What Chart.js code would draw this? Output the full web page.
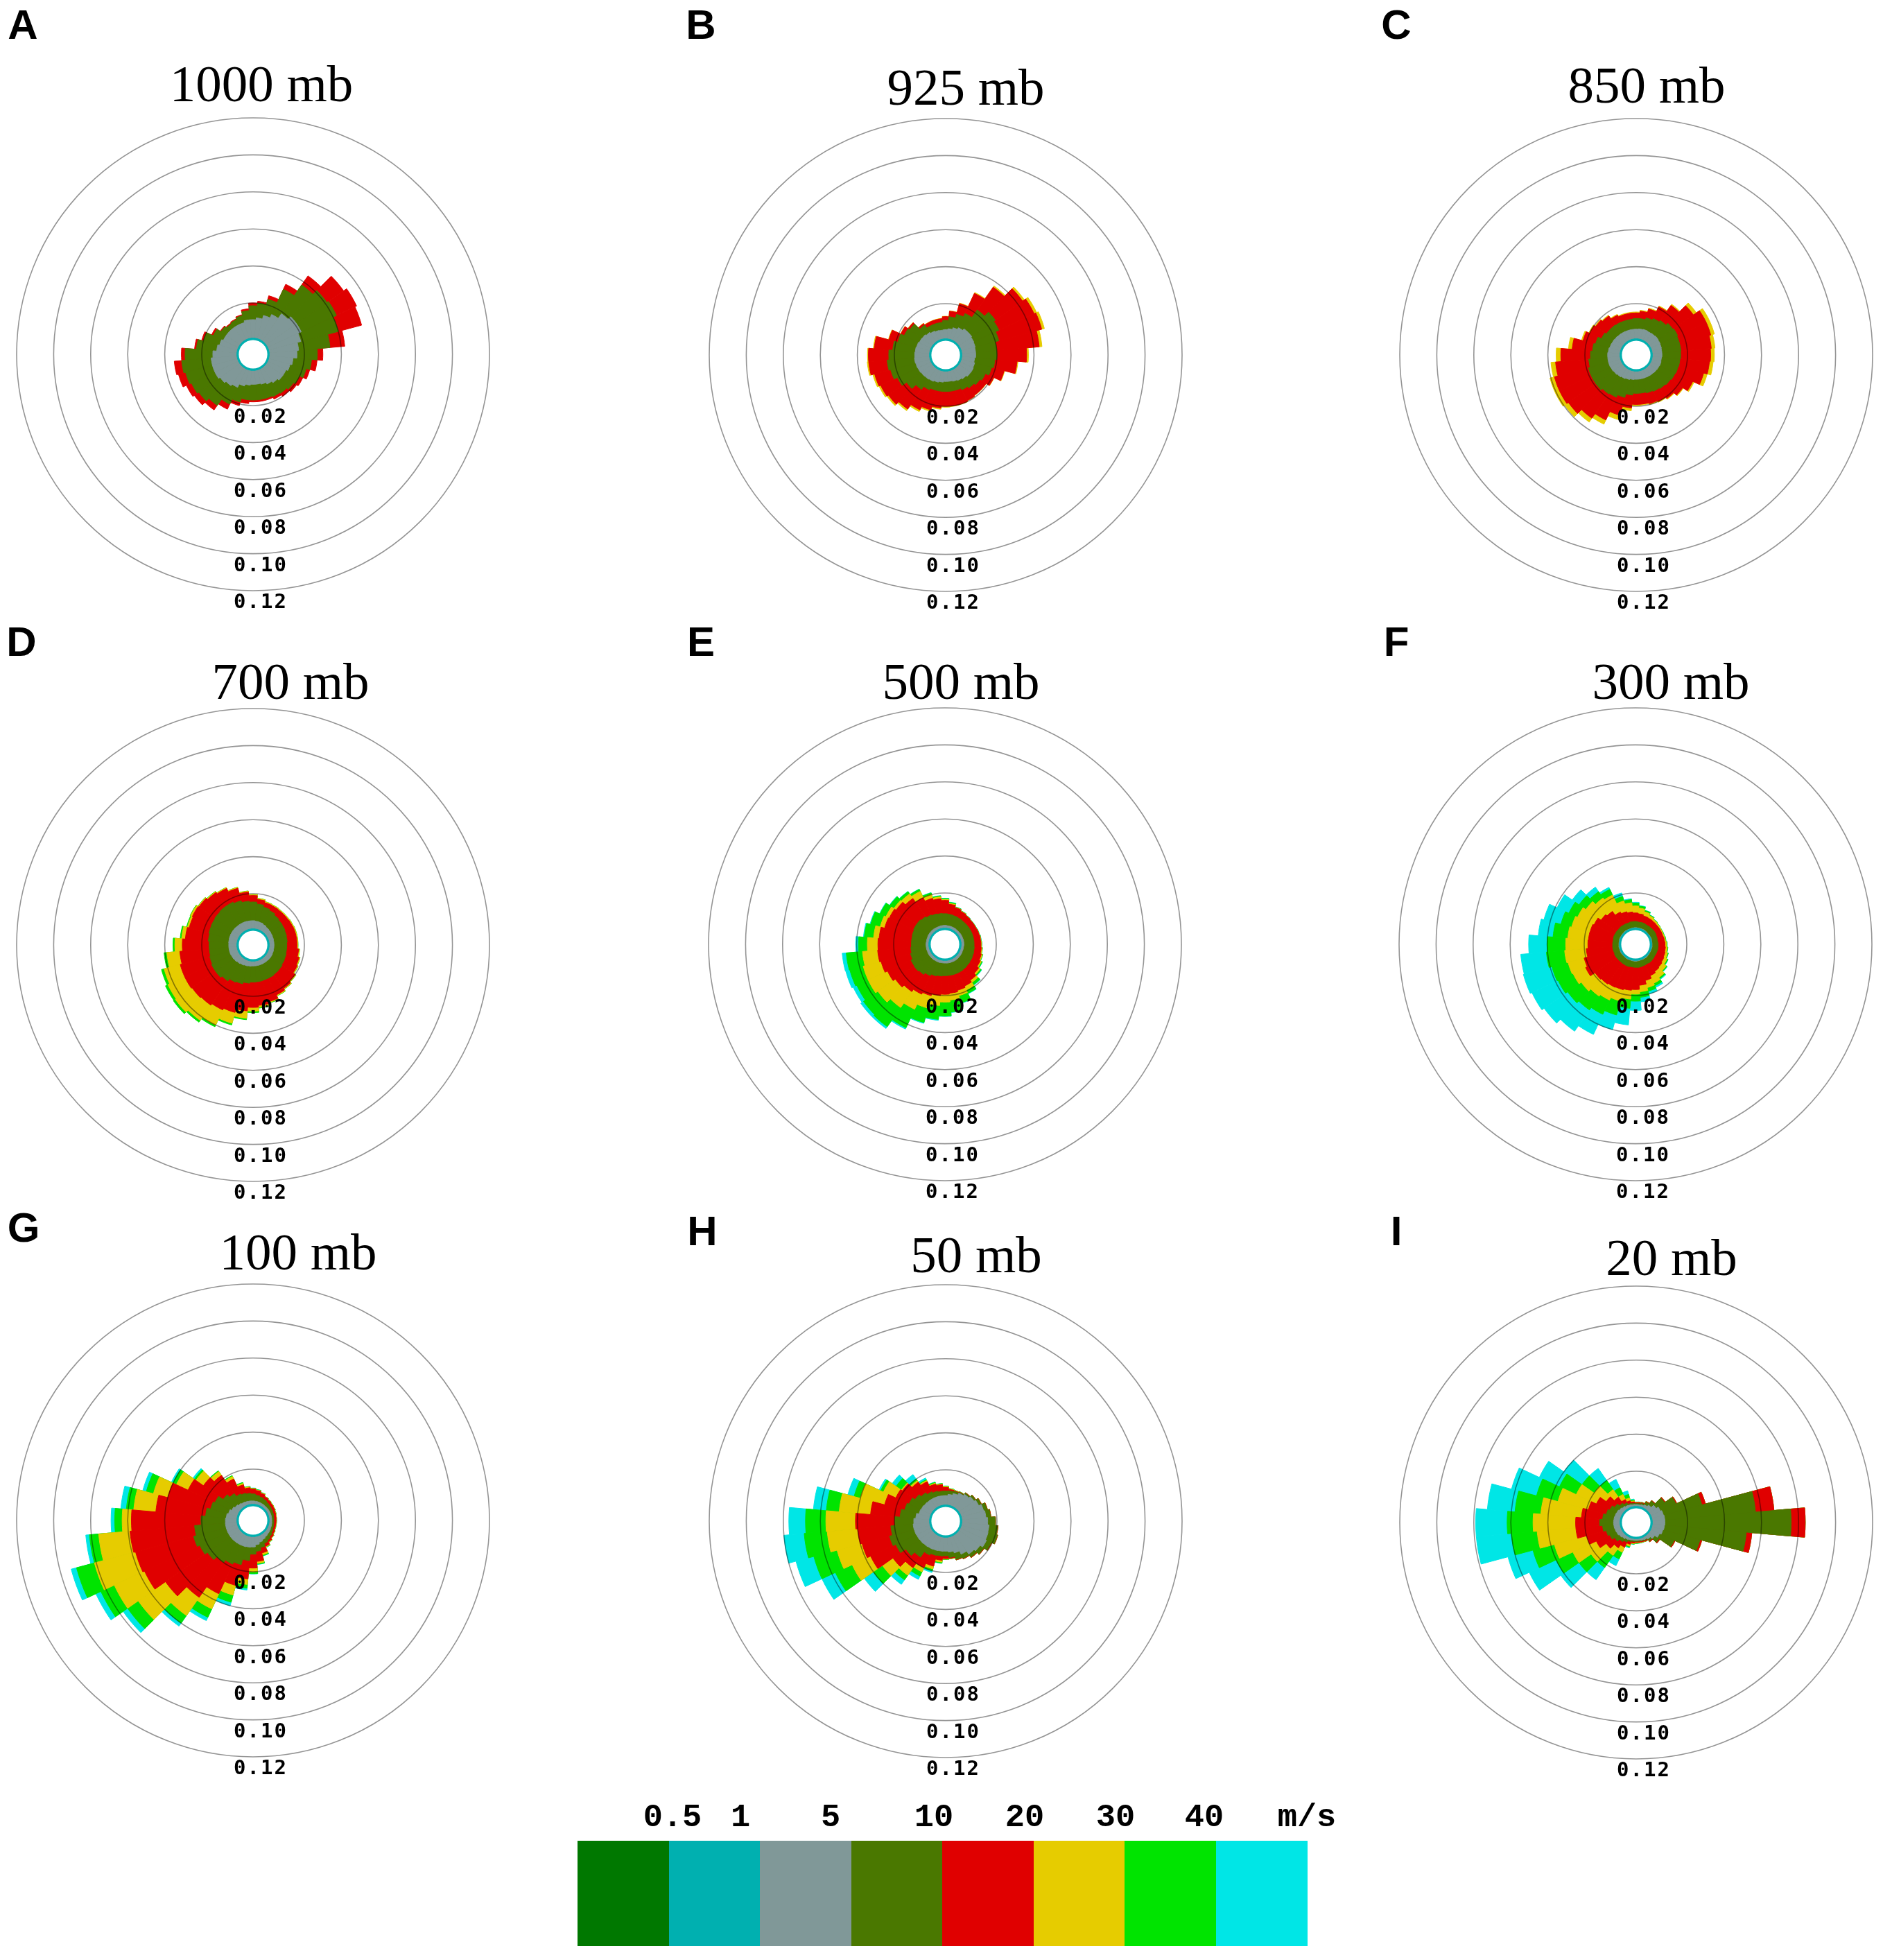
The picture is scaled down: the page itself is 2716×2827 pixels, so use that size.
<!DOCTYPE html>
<html>
<head>
<meta charset="utf-8">
<script src="https://cdn.jsdelivr.net/npm/chart.js@4.4.1/dist/chart.umd.min.js"></script>
<style>
  html, body { margin: 0; padding: 0; background: #fff; }
  body { width: 2716px; height: 2827px; position: relative; overflow: hidden; }
  #labels { position: absolute; left: 0; top: 0; }
  canvas.rose { position: absolute; }
</style>
</head>
<body>
<canvas id="labels" width="2716" height="2827"></canvas>
<script>
// direction bins (degrees, clockwise from north), 10 degree sectors
const directions = ['0','10','20','30','40','50','60','70','80','90','100','110',
  '120','130','140','150','160','170','180','190','200','210','220','230',
  '240','250','260','270','280','290','300','310','320','330','340','350'];

const ringTicks = [0.02, 0.04, 0.06, 0.08, 0.10, 0.12];

// speed classes of the colour bar
const speedLabels = ['0.5', '1', '5', '10', '20', '30', '40', 'm/s'];
const classColors = ['#007800', '#00b0b0', '#809898', '#4a7800', '#e00000', '#e6cc00', '#00e400', '#00e6e6'];

const panelLetters = ['A', 'B', 'C', 'D', 'E', 'F', 'G', 'H', 'I'];
const panelTitles = ['1000 mb', '925 mb', '850 mb', '700 mb', '500 mb', '300 mb', '100 mb', '50 mb', '20 mb'];

// cumulative frequency per sector: speed below 1 m/s (thin ring round the calm hole)
const LT1 = [0.001,0.001,0.001,0.001,0.001,0.001,0.001,0.001,0.001,0.001,0.001,0.001,
  0.001,0.001,0.001,0.001,0.001,0.001,0.001,0.001,0.001,0.001,0.001,0.001,
  0.001,0.001,0.001,0.001,0.001,0.001,0.001,0.001,0.001,0.001,0.001,0.001];

// 1000 mb
const A_lt5 = [0.011,0.012,0.014,0.016,0.019,0.021,0.021,0.019,0.017,0.016,0.014,0.013,
  0.012,0.012,0.011,0.010,0.009,0.0085,0.0085,0.009,0.010,0.012,0.013,0.014,
  0.015,0.015,0.015,0.014,0.012,0.011,0.010,0.010,0.010,0.010,0.010,0.011];
const A_lt10 = [0.0185,0.020,0.023,0.031,0.038,0.041,0.042,0.040,0.034,0.027,0.024,0.022,
  0.020,0.019,0.018,0.0175,0.017,0.017,0.017,0.017,0.019,0.022,0.026,0.028,
  0.029,0.030,0.031,0.029,0.023,0.020,0.016,0.0135,0.0125,0.013,0.014,0.016];
const A_lt20 = [0.020,0.021,0.025,0.034,0.044,0.052,0.054,0.053,0.042,0.030,0.027,0.024,
  0.022,0.021,0.020,0.019,0.018,0.018,0.018,0.019,0.021,0.025,0.029,0.031,
  0.032,0.034,0.035,0.031,0.024,0.021,0.017,0.014,0.013,0.0135,0.0145,0.017];

// 925 mb
const B_lt5 = [0.0060,0.0065,0.0075,0.0085,0.0095,0.0095,0.0090,0.0088,0.0085,0.0085,0.0080,0.0085,
  0.0088,0.0087,0.0080,0.0075,0.0070,0.0066,0.0066,0.0070,0.0075,0.0080,0.0083,0.0085,
  0.0088,0.0090,0.0092,0.0090,0.0088,0.0085,0.0080,0.0078,0.0072,0.0065,0.0060,0.0058];
const B_lt10 = [0.011,0.013,0.015,0.017,0.022,0.025,0.024,0.022,0.020,0.020,0.019,0.018,
  0.016,0.015,0.014,0.013,0.012,0.012,0.012,0.012,0.012,0.013,0.015,0.018,
  0.021,0.023,0.024,0.023,0.021,0.019,0.017,0.016,0.012,0.010,0.010,0.010];
const B_lt20 = [0.013,0.016,0.021,0.029,0.037,0.043,0.045,0.046,0.043,0.036,0.031,0.025,
  0.021,0.019,0.019,0.0195,0.020,0.020,0.020,0.021,0.023,0.025,0.028,0.030,
  0.031,0.032,0.034,0.034,0.031,0.024,0.019,0.017,0.013,0.012,0.012,0.012];
const B_lt30 = [0.0132,0.0162,0.0213,0.0295,0.0378,0.0442,0.0465,0.0475,0.0445,0.0370,0.0315,0.0253,
  0.0212,0.0192,0.0192,0.0197,0.0202,0.0203,0.0205,0.0217,0.0238,0.0260,0.0290,0.0310,
  0.0320,0.0330,0.0348,0.0345,0.0315,0.0243,0.0192,0.0172,0.0132,0.0122,0.0122,0.0122];

// 850 mb
const C_lt5 = [0.0062,0.0064,0.0066,0.0064,0.0066,0.0068,0.0066,0.0064,0.0062,0.0062,0.0060,0.0062,
  0.0060,0.0058,0.0056,0.0055,0.0054,0.0054,0.0054,0.0056,0.0060,0.0064,0.0068,0.0072,
  0.0075,0.0077,0.0077,0.0077,0.0074,0.0070,0.0068,0.0066,0.0064,0.0063,0.0062,0.0062];
const C_lt10 = [0.0120,0.0120,0.0130,0.0140,0.0150,0.0165,0.0170,0.0165,0.0165,0.0163,0.0160,0.0158,
  0.0155,0.0150,0.0145,0.0140,0.0135,0.0130,0.0130,0.0140,0.0160,0.0175,0.0180,0.0190,
  0.0190,0.0190,0.0180,0.0170,0.0160,0.0150,0.0130,0.0120,0.0120,0.0118,0.0117,0.0117];
const C_lt20 = [0.015,0.016,0.018,0.021,0.025,0.030,0.034,0.034,0.033,0.0325,0.032,0.030,
  0.026,0.023,0.021,0.020,0.0195,0.019,0.019,0.021,0.026,0.031,0.034,0.037,
  0.038,0.038,0.036,0.033,0.027,0.022,0.020,0.019,0.018,0.016,0.015,0.015];
const C_lt30 = [0.0155,0.0165,0.0185,0.0215,0.0257,0.0320,0.0360,0.0360,0.0350,0.0345,0.0340,0.0320,
  0.0268,0.0235,0.0215,0.0205,0.0200,0.0195,0.0197,0.0225,0.0285,0.0335,0.0365,0.0395,
  0.0405,0.0405,0.0385,0.0355,0.0290,0.0228,0.0205,0.0195,0.0185,0.0165,0.0155,0.0155];

// 700 mb
const D_lt5 = [0.0054,0.0052,0.0050,0.0046,0.0042,0.0040,0.0038,0.0037,0.0036,0.0036,0.0036,0.0037,
  0.0038,0.0038,0.0037,0.0036,0.0036,0.0036,0.0036,0.0038,0.0040,0.0043,0.0046,0.0050,
  0.0052,0.0054,0.0054,0.0054,0.0055,0.0056,0.0056,0.0056,0.0055,0.0055,0.0055,0.0054];
const D_lt10 = [0.0155,0.0145,0.0135,0.0128,0.0120,0.0115,0.0113,0.0110,0.0108,0.0105,0.0105,0.0108,
  0.0110,0.0115,0.0117,0.0120,0.0120,0.0122,0.0123,0.0130,0.0140,0.0145,0.0160,0.0170,
  0.0170,0.0165,0.0160,0.0160,0.0165,0.0170,0.0172,0.0175,0.0178,0.0178,0.0170,0.0160];
const D_lt20 = [0.019,0.017,0.016,0.0158,0.0156,0.0156,0.0158,0.016,0.016,0.016,0.017,0.018,
  0.0186,0.020,0.021,0.022,0.024,0.025,0.026,0.028,0.030,0.031,0.032,0.0325,
  0.033,0.033,0.032,0.0305,0.029,0.028,0.0285,0.028,0.027,0.026,0.024,0.021];
const D_lt30 = [0.0195,0.0175,0.0165,0.0163,0.0161,0.0161,0.0163,0.0165,0.0165,0.0165,0.0175,0.0185,
  0.0191,0.0205,0.0215,0.0225,0.0245,0.0260,0.0280,0.0320,0.0360,0.0400,0.0420,0.0435,
  0.0430,0.0420,0.0390,0.0345,0.0310,0.0290,0.0295,0.0285,0.0275,0.0265,0.0245,0.0215];
const D_lt40 = [0.0196,0.0176,0.0166,0.0164,0.0162,0.0162,0.0164,0.0166,0.0166,0.0166,0.0176,0.0186,
  0.0192,0.0206,0.0216,0.0227,0.0248,0.0265,0.0288,0.0328,0.0370,0.0410,0.0432,0.0448,
  0.0445,0.0435,0.0405,0.0355,0.0318,0.0295,0.0298,0.0287,0.0277,0.0266,0.0246,0.0216];

// 500 mb
const E_lt5 = [0.0025,0.0024,0.0024,0.0024,0.0023,0.0023,0.0024,0.0024,0.0025,0.0025,0.0024,0.0024,
  0.0025,0.0025,0.0026,0.0026,0.0025,0.0025,0.0024,0.0024,0.0025,0.0025,0.0026,0.0026,
  0.0026,0.0025,0.0025,0.0025,0.0024,0.0024,0.0025,0.0025,0.0025,0.0024,0.0024,0.0025];
const E_lt10 = [0.0088,0.0086,0.0084,0.0082,0.0080,0.0080,0.0080,0.0080,0.0080,0.0080,0.0082,0.0084,
  0.0086,0.0088,0.0090,0.0092,0.0092,0.0092,0.0092,0.0095,0.0100,0.0110,0.0122,0.0127,
  0.0125,0.0115,0.0108,0.0104,0.0104,0.0106,0.0110,0.0110,0.0105,0.0098,0.0093,0.0090];
const E_lt20 = [0.016,0.014,0.0128,0.012,0.0115,0.0112,0.0112,0.0114,0.0116,0.0117,0.012,0.0126,
  0.0133,0.0145,0.016,0.0172,0.018,0.0188,0.0193,0.020,0.021,0.022,0.0235,0.025,
  0.0265,0.028,0.0288,0.0285,0.028,0.026,0.0255,0.0245,0.0225,0.020,0.018,0.017];
const E_lt30 = [0.0165,0.0145,0.0130,0.0122,0.0116,0.0113,0.0113,0.0115,0.0118,0.0120,0.0125,0.0132,
  0.0140,0.0155,0.0175,0.0195,0.0210,0.0225,0.0235,0.0255,0.0280,0.0310,0.0340,0.0365,
  0.0380,0.0380,0.0370,0.0342,0.0310,0.0285,0.0275,0.0260,0.0255,0.0238,0.0200,0.0180];
const E_lt40 = [0.0170,0.0150,0.0132,0.0123,0.0117,0.0114,0.0114,0.0116,0.0119,0.0121,0.0126,0.0134,
  0.0145,0.0162,0.0190,0.0215,0.0250,0.0290,0.0310,0.0330,0.0360,0.0420,0.0466,0.0460,
  0.0448,0.0455,0.0458,0.0390,0.0360,0.0338,0.0310,0.0287,0.0270,0.0250,0.0210,0.0185];
const E_all = [0.0172,0.0152,0.0133,0.0124,0.0118,0.0115,0.0115,0.0117,0.0120,0.0122,0.0127,0.0135,
  0.0147,0.0165,0.0193,0.0218,0.0253,0.0293,0.0313,0.0335,0.0365,0.0428,0.0478,0.0478,
  0.0470,0.0478,0.0480,0.0405,0.0365,0.0342,0.0313,0.0290,0.0272,0.0252,0.0212,0.0187];

// 300 mb
const F_lt5 = [0.0013,0.0012,0.0012,0.0013,0.0012,0.0011,0.0012,0.0013,0.0012,0.0012,0.0013,0.0012,
  0.0012,0.0013,0.0014,0.0013,0.0012,0.0013,0.0014,0.0013,0.0012,0.0013,0.0012,0.0012,
  0.0013,0.0012,0.0013,0.0012,0.0012,0.0013,0.0012,0.0012,0.0013,0.0012,0.0011,0.0012];
const F_lt10 = [0.0046,0.0044,0.0045,0.0043,0.0044,0.0045,0.0046,0.0044,0.0043,0.0045,0.0046,0.0045,
  0.0044,0.0046,0.0047,0.0045,0.0046,0.0048,0.0047,0.0046,0.0048,0.0047,0.0046,0.0047,
  0.0048,0.0046,0.0047,0.0046,0.0045,0.0047,0.0046,0.0045,0.0046,0.0045,0.0044,0.0046];
const F_lt20 = [0.0092,0.0088,0.0082,0.0080,0.0078,0.0077,0.0077,0.0077,0.0080,0.0082,0.0085,0.0088,
  0.0092,0.0097,0.0102,0.0110,0.0125,0.0145,0.0167,0.0172,0.0177,0.0180,0.0185,0.0190,
  0.0220,0.0210,0.0190,0.0180,0.0178,0.0177,0.0170,0.0150,0.0140,0.0115,0.0105,0.0098];
const F_lt30 = [0.0130,0.0119,0.0105,0.0095,0.0088,0.0085,0.0083,0.0083,0.0086,0.0090,0.0095,0.0102,
  0.0110,0.0125,0.0142,0.0155,0.0165,0.0180,0.0192,0.0220,0.0240,0.0255,0.0265,0.0280,
  0.0295,0.0300,0.0307,0.0300,0.0290,0.0280,0.0268,0.0250,0.0228,0.0216,0.0165,0.0148];
const F_lt40 = [0.0145,0.0130,0.0112,0.0098,0.0090,0.0086,0.0084,0.0085,0.0088,0.0093,0.0098,0.0106,
  0.0116,0.0130,0.0150,0.0170,0.0185,0.0210,0.0230,0.0270,0.0318,0.0340,0.0356,0.0370,
  0.0384,0.0390,0.0406,0.0400,0.0370,0.0340,0.0320,0.0295,0.0270,0.0250,0.0190,0.0165];
const F_all = [0.0150,0.0133,0.0114,0.0100,0.0091,0.0087,0.0085,0.0086,0.0089,0.0094,0.0099,0.0107,
  0.0118,0.0133,0.0155,0.0180,0.0200,0.0235,0.0280,0.0360,0.0400,0.0460,0.0496,0.0525,
  0.0540,0.0550,0.0545,0.0500,0.0450,0.0435,0.0390,0.0340,0.0300,0.0262,0.0210,0.0170];

// 100 mb
const G_lt5 = [0.0028,0.0027,0.0026,0.0025,0.0024,0.0024,0.0024,0.0024,0.0024,0.0024,0.0025,0.0026,
  0.0028,0.0030,0.0033,0.0038,0.0045,0.0055,0.0066,0.0068,0.0070,0.0071,0.0072,0.0073,
  0.0073,0.0073,0.0073,0.0072,0.0068,0.0060,0.0050,0.0042,0.0036,0.0032,0.0030,0.0029];
const G_lt10 = [0.0066,0.0060,0.0055,0.0050,0.0045,0.0042,0.0040,0.0038,0.0036,0.0035,0.0036,0.0038,
  0.0042,0.0048,0.0055,0.0061,0.0075,0.0090,0.0105,0.0140,0.0170,0.0183,0.0200,0.0223,
  0.0240,0.0255,0.0240,0.0204,0.0180,0.0160,0.0150,0.0120,0.0100,0.0081,0.0075,0.0070];
const G_lt20 = [0.0092,0.0085,0.0075,0.0065,0.0060,0.0056,0.0053,0.0050,0.0048,0.0047,0.0047,0.0048,
  0.0052,0.0058,0.0066,0.0078,0.0105,0.0145,0.0180,0.0240,0.0286,0.0360,0.0430,0.0500,
  0.0570,0.0580,0.0590,0.0580,0.0450,0.0400,0.0310,0.0250,0.0220,0.0170,0.0122,0.0100];
const G_lt30 = [0.0095,0.0088,0.0078,0.0067,0.0062,0.0058,0.0055,0.0052,0.0050,0.0049,0.0049,0.0050,
  0.0054,0.0060,0.0069,0.0082,0.0115,0.0155,0.0200,0.0270,0.0340,0.0450,0.0550,0.0680,
  0.0750,0.0810,0.0760,0.0630,0.0570,0.0480,0.0380,0.0300,0.0245,0.0185,0.0130,0.0105];
const G_lt40 = [0.0097,0.0090,0.0080,0.0068,0.0063,0.0059,0.0056,0.0053,0.0050,0.0050,0.0050,0.0051,
  0.0055,0.0061,0.0070,0.0084,0.0120,0.0160,0.0210,0.0290,0.0380,0.0500,0.0600,0.0750,
  0.0830,0.0910,0.0810,0.0670,0.0610,0.0520,0.0400,0.0310,0.0250,0.0190,0.0135,0.0107];
const G_all = [0.0098,0.0091,0.0080,0.0068,0.0063,0.0059,0.0056,0.0053,0.0050,0.0050,0.0050,0.0051,
  0.0055,0.0061,0.0070,0.0085,0.0122,0.0162,0.0212,0.0300,0.0400,0.0520,0.0620,0.0780,
  0.0860,0.0940,0.0830,0.0690,0.0640,0.0540,0.0410,0.0320,0.0250,0.0190,0.0135,0.0108];

// 50 mb
const H_lt5 = [0.0061,0.0068,0.0078,0.0090,0.0100,0.0110,0.0120,0.0135,0.0141,0.0150,0.0158,0.0160,
  0.0166,0.0150,0.0140,0.0120,0.0100,0.0090,0.0085,0.0086,0.0088,0.0090,0.0092,0.0094,
  0.0096,0.0098,0.0099,0.0095,0.0085,0.0072,0.0069,0.0066,0.0064,0.0063,0.0062,0.0061];
const H_lt10 = [0.0085,0.0087,0.0090,0.0095,0.0108,0.0121,0.0135,0.0155,0.0166,0.0190,0.0205,0.0212,
  0.0195,0.0175,0.0160,0.0145,0.0137,0.0120,0.0110,0.0112,0.0115,0.0125,0.0160,0.0185,
  0.0220,0.0236,0.0220,0.0197,0.0170,0.0152,0.0141,0.0125,0.0110,0.0098,0.0090,0.0085];
const H_lt20 = [0.0105,0.0095,0.0093,0.0097,0.0110,0.0123,0.0137,0.0157,0.0168,0.0192,0.0207,0.0214,
  0.0198,0.0178,0.0163,0.0148,0.0140,0.0125,0.0125,0.0135,0.0175,0.0200,0.0230,0.0270,
  0.0370,0.0390,0.0400,0.0410,0.0330,0.0264,0.0220,0.0208,0.0180,0.0158,0.0130,0.0121];
const H_lt30 = [0.0110,0.0098,0.0095,0.0098,0.0110,0.0123,0.0137,0.0157,0.0168,0.0192,0.0207,0.0214,
  0.0198,0.0178,0.0163,0.0148,0.0140,0.0127,0.0128,0.0145,0.0190,0.0225,0.0280,0.0340,
  0.0480,0.0530,0.0565,0.0570,0.0500,0.0400,0.0294,0.0215,0.0190,0.0165,0.0135,0.0125];
const H_lt40 = [0.0112,0.0100,0.0096,0.0099,0.0110,0.0123,0.0137,0.0157,0.0168,0.0192,0.0207,0.0214,
  0.0198,0.0178,0.0163,0.0148,0.0140,0.0128,0.0130,0.0150,0.0200,0.0250,0.0310,0.0400,
  0.0580,0.0660,0.0690,0.0680,0.0570,0.0435,0.0310,0.0250,0.0200,0.0170,0.0140,0.0127];
const H_all = [0.0113,0.0100,0.0096,0.0099,0.0110,0.0123,0.0137,0.0157,0.0168,0.0192,0.0207,0.0214,
  0.0198,0.0178,0.0163,0.0148,0.0140,0.0128,0.0130,0.0152,0.0210,0.0270,0.0340,0.0460,
  0.0660,0.0760,0.0800,0.0770,0.0640,0.0470,0.0320,0.0276,0.0230,0.0180,0.0142,0.0128];

// 20 mb
const I_lt5 = [0.0020,0.0020,0.0022,0.0028,0.0038,0.0055,0.0068,0.0075,0.0078,0.0078,0.0076,0.0072,
  0.0062,0.0045,0.0032,0.0025,0.0022,0.0020,0.0020,0.0020,0.0021,0.0025,0.0030,0.0035,
  0.0040,0.0042,0.0044,0.0045,0.0044,0.0042,0.0040,0.0035,0.0030,0.0026,0.0023,0.0021];
const I_lt10 = [0.0025,0.0026,0.0030,0.0045,0.0065,0.0110,0.0160,0.0290,0.0570,0.0760,0.0520,0.0280,
  0.0150,0.0075,0.0045,0.0030,0.0027,0.0025,0.0025,0.0026,0.0030,0.0040,0.0050,0.0065,
  0.0080,0.0090,0.0105,0.0120,0.0105,0.0090,0.0080,0.0065,0.0050,0.0040,0.0030,0.0027];
const I_lt20 = [0.0030,0.0031,0.0034,0.0048,0.0068,0.0115,0.0165,0.0310,0.0670,0.0836,0.0550,0.0290,
  0.0155,0.0080,0.0050,0.0035,0.0032,0.0030,0.0030,0.0034,0.0045,0.0070,0.0090,0.0120,
  0.0160,0.0200,0.0250,0.0250,0.0220,0.0190,0.0160,0.0120,0.0090,0.0060,0.0045,0.0035];
const I_lt30 = [0.0032,0.0033,0.0035,0.0049,0.0068,0.0115,0.0165,0.0310,0.0670,0.0836,0.0550,0.0290,
  0.0155,0.0080,0.0050,0.0036,0.0034,0.0033,0.0034,0.0038,0.0055,0.0100,0.0140,0.0220,
  0.0300,0.0380,0.0460,0.0480,0.0440,0.0360,0.0280,0.0200,0.0140,0.0090,0.0060,0.0040];
const I_lt40 = [0.0033,0.0034,0.0036,0.0049,0.0068,0.0115,0.0165,0.0310,0.0670,0.0836,0.0550,0.0290,
  0.0155,0.0080,0.0050,0.0037,0.0035,0.0035,0.0036,0.0040,0.0060,0.0140,0.0220,0.0300,
  0.0400,0.0500,0.0600,0.0620,0.0580,0.0480,0.0380,0.0280,0.0200,0.0130,0.0080,0.0045];
const I_all = [0.0034,0.0035,0.0036,0.0049,0.0068,0.0115,0.0165,0.0310,0.0670,0.0836,0.0550,0.0290,
  0.0155,0.0080,0.0050,0.0037,0.0036,0.0036,0.0037,0.0042,0.0065,0.0180,0.0300,0.0420,
  0.0560,0.0640,0.0790,0.0790,0.0730,0.0620,0.0500,0.0400,0.0280,0.0180,0.0100,0.0050];

// class stacks per panel, in colour-bar order (null = class not present)
const panelStacks = [
  [null, LT1, A_lt5, A_lt10, A_lt20, null, null, null],
  [null, LT1, B_lt5, B_lt10, B_lt20, B_lt30, null, null],
  [null, LT1, C_lt5, C_lt10, C_lt20, C_lt30, null, null],
  [null, LT1, D_lt5, D_lt10, D_lt20, D_lt30, D_lt40, null],
  [null, LT1, E_lt5, E_lt10, E_lt20, E_lt30, E_lt40, E_all],
  [null, LT1, F_lt5, F_lt10, F_lt20, F_lt30, F_lt40, F_all],
  [null, LT1, G_lt5, G_lt10, G_lt20, G_lt30, G_lt40, G_all],
  [null, LT1, H_lt5, H_lt10, H_lt20, H_lt30, H_lt40, H_all],
  [null, LT1, I_lt5, I_lt10, I_lt20, I_lt30, I_lt40, I_all]
];

// layout (page pixels)
const roseCenters = [[365,511],[1364,512],[2360,512],[365,1363],[1363,1362],[2359,1362],[365,2193],[1364,2194],[2360,2196]];
const titlePos = [[377,146],[1393,151],[2375,148],[419,1008],[1386,1008],[2410,1008],[430,1831],[1408,1835],[2411,1839]];
const letterPos = [[33,56],[1011,56],[2014,56],[31,946],[1011,946],[2014,946],[34,1791],[1013,1796],[2014,1796]];
const legendLabelX = [970,1068,1198,1347,1478,1609,1737,1885];
const CANVAS = 760, PAD = 39;

// white calm circle in the middle and ring labels below the centre
const roseDecor = {
  id: 'roseDecor',
  afterDatasetsDraw(chart) {
    const s = chart.scales.r, ctx = chart.ctx;
    const r0 = s.getDistanceFromCenterForValue(0);
    ctx.save();
    ctx.fillStyle = '#fff';
    ctx.beginPath();
    ctx.arc(s.xCenter, s.yCenter, r0, 0, Math.PI * 2);
    ctx.fill();
    ctx.restore();
  },
  afterDraw(chart) {
    const s = chart.scales.r, ctx = chart.ctx;
    ctx.save();
    ctx.font = 'bold 29px "DejaVu Sans Mono"';
    ctx.letterSpacing = '2px';
    ctx.fillStyle = '#000';
    ctx.textAlign = 'center';
    ctx.textBaseline = 'alphabetic';
    s.ticks.forEach(t => {
      const r = s.getDistanceFromCenterForValue(t.value);
      ctx.fillText(t.value.toFixed(2), s.xCenter + 11, s.yCenter + r + 25);
    });
    ctx.restore();
  }
};

function buildRose(idx) {
  const c = document.createElement('canvas');
  c.className = 'rose';
  c.width = CANVAS; c.height = CANVAS;
  c.style.left = (roseCenters[idx][0] - CANVAS / 2) + 'px';
  c.style.top = (roseCenters[idx][1] - CANVAS / 2) + 'px';
  document.body.appendChild(c);

  const datasets = [];
  let prev = null;
  panelStacks[idx].forEach((cum, k) => {
    if (!cum) return;
    const vals = cum.map((v, i) => prev ? Math.max(v, prev[i]) : v);
    datasets.push({
      label: speedLabels[k],
      data: vals,
      backgroundColor: classColors[k],
      borderColor: classColors[k],
      borderWidth: 1
    });
    prev = vals;
  });

  new Chart(c, {
    type: 'polarArea',
    data: { labels: directions, datasets: datasets },
    options: {
      responsive: false,
      animation: false,
      devicePixelRatio: 1,
      layout: { padding: PAD },
      plugins: { legend: { display: false }, tooltip: { enabled: false } },
      events: [],
      scales: {
        r: {
          min: -0.00772,
          max: 0.12,
          startAngle: -5,
          z: 1,
          afterBuildTicks: (scale) => { scale.ticks = ringTicks.map(v => ({ value: v })); },
          ticks: { display: false },
          grid: { circular: true, color: 'rgba(0,0,0,0.42)', lineWidth: 1.6, z: 1 },
          angleLines: { display: false },
          pointLabels: { display: false }
        }
      }
    },
    plugins: [roseDecor]
  });
}

for (let i = 0; i < 9; i++) buildRose(i);

// titles, panel letters and colour bar
const ctx = document.getElementById('labels').getContext('2d');
ctx.fillStyle = '#000';
ctx.textAlign = 'center';
ctx.textBaseline = 'alphabetic';
ctx.font = '75px "Liberation Serif"';
panelTitles.forEach((t, i) => ctx.fillText(t, titlePos[i][0], titlePos[i][1]));
ctx.font = 'bold 60px "Liberation Sans"';
panelLetters.forEach((t, i) => ctx.fillText(t, letterPos[i][0], letterPos[i][1]));

const barX = 833, barY = 2655, barW = 131.5, barH = 152;
classColors.forEach((col, k) => {
  ctx.fillStyle = col;
  ctx.fillRect(Math.round(barX + k * barW), barY, Math.ceil(barW), barH);
});
ctx.fillStyle = '#000';
ctx.font = 'bold 47px "Liberation Mono"';
speedLabels.forEach((t, k) => ctx.fillText(t, legendLabelX[k], 2634));
</script>
</body>
</html>
